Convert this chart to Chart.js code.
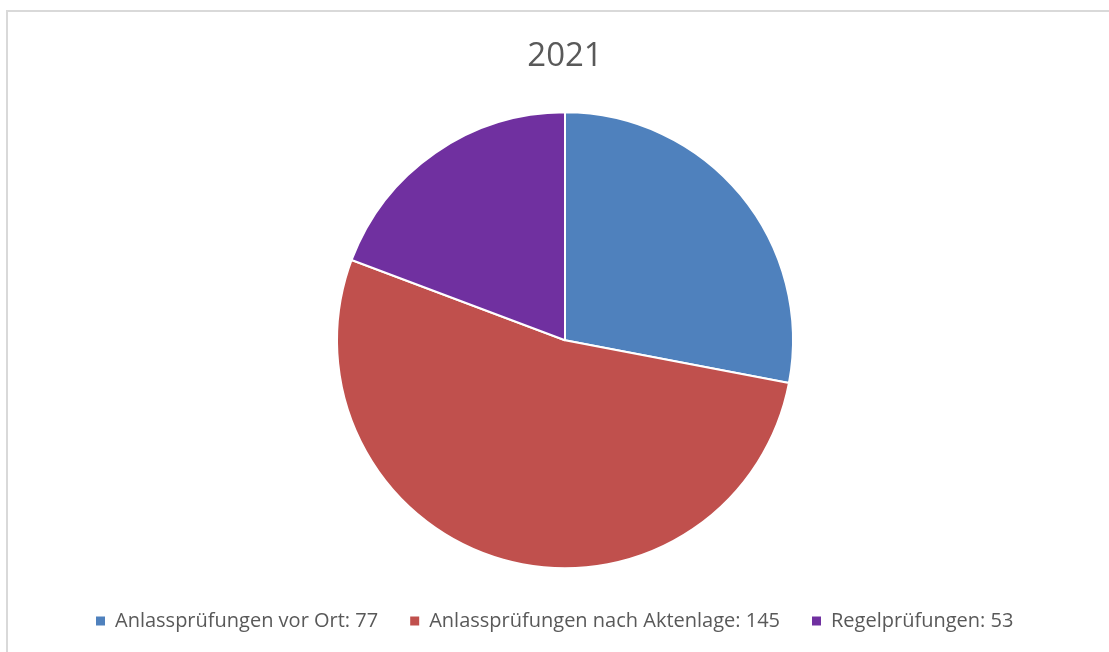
<!DOCTYPE html>
<html>
<head>
<meta charset="utf-8">
<script src="https://cdn.jsdelivr.net/npm/chart.js@4"></script>
<style>
  html, body { margin: 0; padding: 0; background: #fff; overflow: hidden; }
  #frame {
    position: absolute; left: 6px; top: 10px; width: 1200px; height: 700px;
    border: 2px solid #d9d9d9; box-sizing: border-box;
  }
  #wrap { position: absolute; left: 0; top: 0; width: 1109px; height: 652px; }
</style>
</head>
<body>
<div id="frame"></div>
<div id="wrap"><canvas id="pieChart"></canvas></div>
<script>
const chartTitle = '2021';
const categories = ['Anlassprüfungen vor Ort', 'Anlassprüfungen nach Aktenlage', 'Regelprüfungen'];
const counts = [77, 145, 53];
const sliceColors = ['#4F81BD', '#C0504D', '#7030A0'];

const textColor = '#595959';
const fontFamily = '"Open Sans", "Liberation Sans", sans-serif';

const ctx = document.getElementById('pieChart').getContext('2d');

new Chart(ctx, {
  type: 'pie',
  data: {
    labels: categories.map((c, i) => c + ': ' + counts[i]),
    datasets: [{
      data: counts,
      backgroundColor: sliceColors,
      borderColor: '#ffffff',
      borderWidth: 2,
      radius: 228
    }]
  },
  options: {
    responsive: true,
    maintainAspectRatio: false,
    animation: false,
    layout: { padding: { left: 64, right: 43, top: 0, bottom: 11 } },
    plugins: {
      title: {
        display: true,
        text: chartTitle,
        color: textColor,
        font: { family: fontFamily, size: 33, weight: 'normal' },
        padding: { top: 37, bottom: 25 }
      },
      legend: {
        position: 'bottom',
        align: 'start',
        labels: {
          color: textColor,
          font: { family: fontFamily, size: 20 },
          boxWidth: 9,
          boxHeight: 9,
          padding: 32,
          // solid squares, no white slice border around the marker
          generateLabels: (chart) => {
            const items = Chart.overrides.pie.plugins.legend.labels.generateLabels(chart);
            items.forEach(item => {
              item.strokeStyle = item.fillStyle;
              item.lineWidth = 0;
            });
            return items;
          }
        }
      },
      tooltip: { enabled: false }
    }
  }
});
</script>
</body>
</html>
